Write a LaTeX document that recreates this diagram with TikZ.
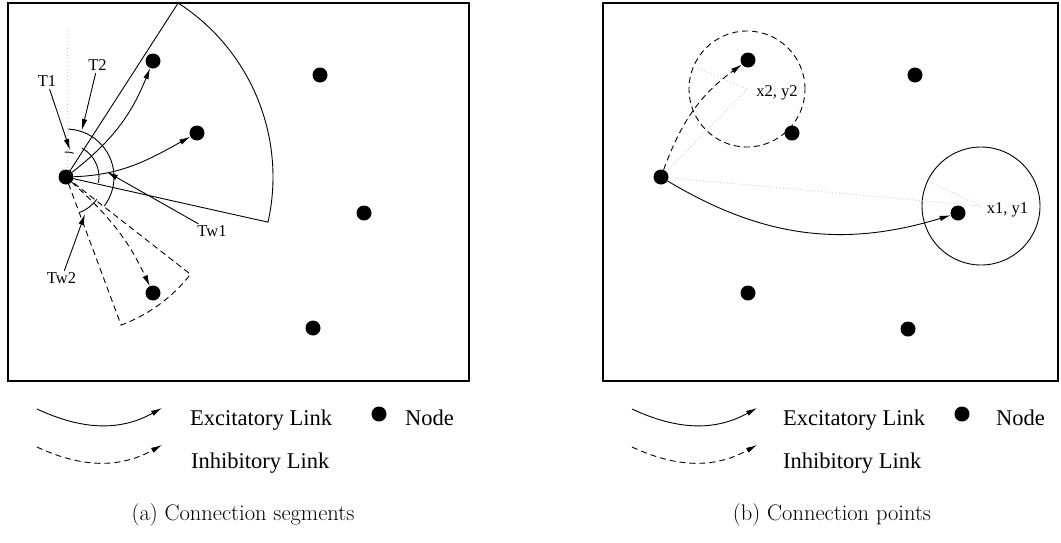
\documentclass[tikz,border=0pt]{standalone}
\usepackage{fontspec}
\newfontfamily\tms{Liberation Serif}
\usetikzlibrary{arrows.meta}
\tikzset{
  dot/.style={circle,fill=black,inner sep=0pt,minimum size=15pt},
  frame/.style={line width=1.1pt},
  thin line/.style={line width=0.9pt},
  link/.style={thin line,-{Latex[length=11pt,width=5.5pt]}},
  inh/.style={link,dash pattern=on 6pt off 4pt},
  dsh/.style={thin line,dash pattern=on 6pt off 4pt},
  guide/.style={gray!40,line width=0.9pt,dash pattern=on 1pt off 2.5pt},
  lbl/.style={font=\tms\fontsize{16.5}{19}\selectfont,inner sep=2pt},
  leg/.style={font=\tms\fontsize{22.5}{26}\selectfont,inner sep=0pt,anchor=base west},
  captext/.style={font=\fontsize{22.5}{26}\selectfont,inner sep=0pt,anchor=base},
}
\begin{document}
\begin{tikzpicture}[x=1pt,y=1pt]
\useasboundingbox (0,0) rectangle (1061,-542);

% ================= panel (a) =================
\draw[frame] (8,-3) rectangle (469,-381);
\coordinate (sa) at (66,-177);
\draw[guide] (67,-30) -- (67,-168);
% excitatory segment
\draw[thin line] (sa) -- ++(57.2:207) arc[start angle=57.2,end angle=-12.6,radius=207] -- cycle;
% inhibitory segment
\draw[dsh] (sa) -- ++(-38:158) arc[start angle=-38,end angle=-69.6,radius=158] -- cycle;
% angle arcs
\draw[thin line] (sa) ++(93:25) arc[start angle=93,end angle=72,radius=25];
\draw[thin line] (sa) ++(87:48) arc[start angle=87,end angle=-37,radius=48];
\draw[thin line] (sa) ++(61:33) arc[start angle=61,end angle=-10,radius=33];
\draw[thin line] (sa) ++(-36:38) arc[start angle=-36,end angle=-68,radius=38];

% nodes
\node[dot] (a0) at (sa) {};
\node[dot] (a1) at (153,-61) {};
\node[dot] (a2) at (197,-133) {};
\node[dot] (a3) at (320,-75) {};
\node[dot] (a4) at (364,-213) {};
\node[dot] (a5) at (313,-328) {};
\node[dot] (a6) at (153,-293) {};

% links
\draw[link] (a0) to[out=38,in=248] (a1);
\draw[link] (a0) to[out=2,in=209] (a2);
\draw[inh] (a0) to[out=-42,in=115] (a6);

% labels
\node[lbl] (t1) at (47,-81.5) {T1};
\node[lbl] (t2) at (97.5,-65.5) {T2};
\node[lbl] (tw1) at (212,-231.5) {Tw1};
\node[lbl] (tw2) at (61.5,-278.5) {Tw2};
\coordinate (t1tip) at (70,-150);
\coordinate (t2tip) at (82,-130);
\coordinate (tw1tip) at (107,-172);
\coordinate (tw2tip) at (85,-214);
\draw[link] (t1) -- (t1tip);
\draw[link] (t2) -- (t2tip);
\draw[link] (tw1) -- (tw1tip);
\draw[link] (tw2) -- (tw2tip);

% legend (a)
\coordinate (la1) at (37,-409);
\coordinate (la2) at (162,-408);
\coordinate (la3) at (37,-447);
\coordinate (la4) at (162,-445);
\draw[link] (la1) to[out=-25,in=209] (la2);
\draw[inh] (la3) to[out=-25,in=209] (la4);
\node[leg] (lae) at (190,-425) {Excitatory Link};
\node[leg] (lai) at (191,-468) {Inhibitory Link};
\node[dot] (lad) at (379,-414) {};
\node[leg] (lan) at (405,-425) {Node};
\node[captext] (capa) at (243,-520) {(a) Connection segments};

% ================= panel (b) =================
\draw[frame] (603,-3) rectangle (1058,-381);
\coordinate (sb) at (661,-177);
\coordinate (c2) at (747,-89);
\coordinate (c1) at (981,-206);
\draw[dsh] (c2) circle[radius=58];
\draw[thin line] (c1) circle[radius=59];
\draw[guide] (sb) -- (c2);
\draw[guide] (c2) -- ++(157:54);
\draw[guide] (sb) -- (c1);
\draw[guide] (c1) -- ++(155:56);

\node[dot] (b0) at (sb) {};
\node[dot] (b1) at (748,-60) {};
\node[dot] (b2) at (792,-133) {};
\node[dot] (b3) at (915,-75) {};
\node[dot] (b4) at (958,-213) {};
\node[dot] (b5) at (908,-329) {};
\node[dot] (b6) at (748,-293) {};

\draw[link] (b0) to[out=-31,in=197] (b4);
\draw[inh] (b0) to[out=70,in=216] (b1);

\node[lbl,anchor=base,inner sep=0pt] (x2) at (777,-96) {x2, y2};
\node[lbl,anchor=base,inner sep=0pt] (x1) at (1007.5,-213) {x1, y1};

% legend (b)
\coordinate (lb1) at (632,-409);
\coordinate (lb2) at (757,-408);
\coordinate (lb3) at (632,-447);
\coordinate (lb4) at (757,-445);
\draw[link] (lb1) to[out=-25,in=209] (lb2);
\draw[inh] (lb3) to[out=-25,in=209] (lb4);
\node[leg] (lbe) at (783,-425) {Excitatory Link};
\node[leg] (lbi) at (783,-468) {Inhibitory Link};
\node[dot] (lbd) at (962,-414) {};
\node[leg] (lbn) at (996,-425) {Node};
\node[captext] (capb) at (832,-520) {(b) Connection points};
\end{tikzpicture}
\end{document}
